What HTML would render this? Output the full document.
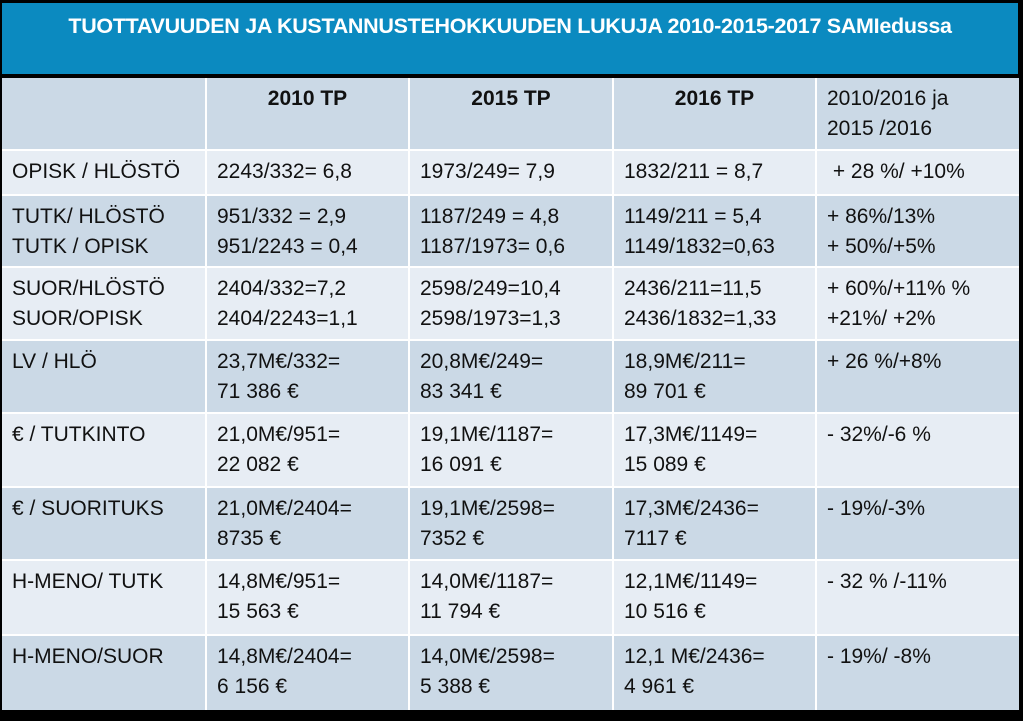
<!DOCTYPE html>
<html><head><meta charset="utf-8"><style>
body{margin:0;width:1023px;height:721px;background:#000;overflow:hidden;font-family:"Liberation Sans",sans-serif;}
#title{position:absolute;left:2px;top:3px;width:1016px;height:71px;background:#0b8ac0;color:#fff;font-weight:bold;font-size:21.5px;text-align:center;line-height:46px;white-space:nowrap;letter-spacing:-0.3px;}
table{position:absolute;left:2px;top:78px;width:1017px;height:632px;border-collapse:collapse;table-layout:fixed;}
td{border:2px solid #fff;vertical-align:top;padding:6px 0 0 10px;font-size:21px;line-height:30px;color:#111;white-space:nowrap;overflow:hidden;}
tr:nth-child(odd) td{background:#cbd9e6;}
tr:nth-child(even) td{background:#e7edf4;}
table tr td:first-child{border-left:none;}
table tr:first-child td{border-top:none;}
table tr:last-child td{border-bottom:none;}
table tr td:last-child{border-right:none;}
.h{font-weight:bold;text-align:center;padding-left:0;}
</style></head><body>
<div id="title">TUOTTAVUUDEN JA KUSTANNUSTEHOKKUUDEN LUKUJA 2010-2015-2017 SAMIedussa</div>
<table>
<colgroup><col style="width:204px"><col style="width:203px"><col style="width:204px"><col style="width:203px"><col style="width:203px"></colgroup>
<tr style="height:72px"><td></td><td class="h">2010 TP</td><td class="h">2015 TP</td><td class="h">2016 TP</td><td>2010/2016 ja<br>2015 /2016</td></tr>
<tr style="height:45px"><td>OPISK / HLÖSTÖ</td><td>2243/332= 6,8</td><td>1973/249= 7,9</td><td>1832/211 = 8,7</td><td>&nbsp;+ 28 %/ +10%</td></tr>
<tr style="height:72px"><td>TUTK/ HLÖSTÖ<br>TUTK / OPISK</td><td>951/332 = 2,9<br>951/2243 = 0,4</td><td>1187/249 = 4,8<br>1187/1973= 0,6</td><td>1149/211 = 5,4<br>1149/1832=0,63</td><td>+ 86%/13%<br>+ 50%/+5%</td></tr>
<tr style="height:73px"><td>SUOR/HLÖSTÖ<br>SUOR/OPISK</td><td>2404/332=7,2<br>2404/2243=1,1</td><td>2598/249=10,4<br>2598/1973=1,3</td><td>2436/211=11,5<br>2436/1832=1,33</td><td>+ 60%/+11% %<br>+21%/ +2%</td></tr>
<tr style="height:73px"><td>LV / HLÖ</td><td>23,7M€/332=<br>71 386 €</td><td>20,8M€/249=<br>83 341 €</td><td>18,9M€/211=<br>89 701 €</td><td>+ 26 %/+8%</td></tr>
<tr style="height:74px"><td>€ / TUTKINTO</td><td>21,0M€/951=<br>22 082 €</td><td>19,1M€/1187=<br>16 091 €</td><td>17,3M€/1149=<br>15 089 €</td><td>- 32%/-6 %</td></tr>
<tr style="height:73px"><td>€ / SUORITUKS</td><td>21,0M€/2404=<br>8735 €</td><td>19,1M€/2598=<br>7352 €</td><td>17,3M€/2436=<br>7117 €</td><td>- 19%/-3%</td></tr>
<tr style="height:75px"><td>H-MENO/ TUTK</td><td>14,8M€/951=<br>15 563 €</td><td>14,0M€/1187=<br>11 794 €</td><td>12,1M€/1149=<br>10 516 €</td><td>- 32 % /-11%</td></tr>
<tr style="height:75px"><td>H-MENO/SUOR</td><td>14,8M€/2404=<br>6 156 €</td><td>14,0M€/2598=<br>5 388 €</td><td>12,1 M€/2436=<br>4 961 €</td><td>- 19%/ -8%</td></tr>
</table>
</body></html>
